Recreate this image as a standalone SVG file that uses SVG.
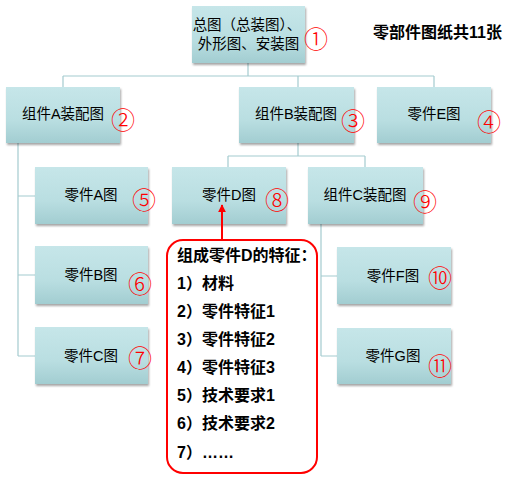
<svg xmlns="http://www.w3.org/2000/svg" width="513" height="500" viewBox="0 0 513 500">
<defs>
<linearGradient id="g" x1="0" y1="0" x2="0" y2="1">
<stop offset="0" stop-color="#c6e6e9"/>
<stop offset="0.6" stop-color="#b9dee1"/>
<stop offset="1" stop-color="#a2cdd1"/>
</linearGradient>
<filter id="sh" x="-10%" y="-10%" width="125%" height="130%">
<feDropShadow dx="1" dy="2" stdDeviation="1.2" flood-color="#000" flood-opacity="0.35"/>
</filter>
<marker id="ah" viewBox="0 0 10 10" refX="9" refY="5" markerWidth="4" markerHeight="4" orient="auto">
<path d="M0,0 L10,5 L0,10 z" fill="#ff0000"/>
</marker>
</defs>
<style>
.box{fill:url(#g);filter:url(#sh);}
.t{font-family:"Liberation Sans","Noto Sans CJK SC",sans-serif;font-size:14.5px;fill:#000;text-anchor:middle;dominant-baseline:central;}
.n{font-family:"Noto Sans CJK SC","DejaVu Serif",serif;font-size:24px;font-weight:300;fill:#ff0000;text-anchor:middle;dominant-baseline:central;}
.c{fill:none;stroke:#a4cbcf;stroke-width:1.2;}
.b{font-family:"Liberation Sans","Noto Sans CJK SC",sans-serif;font-size:16px;font-weight:bold;fill:#000;}
</style>
<g id="connectors">
<path class="c" d="M248,63 V76 M63,76 H434 M63,76 V87 M298,76 V87 M434,76 V87"/>
<path class="c" d="M18,143 V356 M18,196 H35 M18,275 H35 M18,356 H35"/>
<path class="c" d="M298,143 V156 M228,156 H365 M228,156 V167 M365,156 V167"/>
<path class="c" d="M321,224 V356 M321,276 H337 M321,356 H337"/>
</g>
<g id="n1"><rect class="box" x="192" y="6" width="113" height="57"/><text class="t" x="247" y="25">总图（总装图）、</text><text class="t" x="248.5" y="44">外形图、安装图</text><text class="n" x="316" y="37">①</text></g>
<g id="title"><text class="b" x="373" y="38">零部件图纸共11张</text></g>
<g id="n2"><rect class="box" x="6" y="87" width="114" height="56"/><text class="t" x="63" y="114">组件A装配图</text><text class="n" x="123" y="118">②</text></g>
<g id="n3"><rect class="box" x="239" y="87" width="115" height="56"/><text class="t" x="296" y="114">组件B装配图</text><text class="n" x="353" y="119">③</text></g>
<g id="n4"><rect class="box" x="377" y="87" width="114" height="56"/><text class="t" x="434" y="114">零件E图</text><text class="n" x="489" y="120">④</text></g>
<g id="n5"><rect class="box" x="35" y="167" width="113" height="57"/><text class="t" x="91" y="195">零件A图</text><text class="n" x="144" y="198">⑤</text></g>
<g id="n8"><rect class="box" x="172" y="167" width="114" height="57"/><text class="t" x="229" y="195">零件D图</text><text class="n" x="277" y="198">⑧</text></g>
<g id="n9"><rect class="box" x="308" y="167" width="115" height="57"/><text class="t" x="365" y="195">组件C装配图</text><text class="n" x="425" y="200">⑨</text></g>
<g id="n6"><rect class="box" x="35" y="246" width="113" height="58"/><text class="t" x="91" y="275">零件B图</text><text class="n" x="140" y="282">⑥</text></g>
<g id="n7"><rect class="box" x="35" y="327" width="113" height="57"/><text class="t" x="91" y="356">零件C图</text><text class="n" x="140" y="356">⑦</text></g>
<g id="n10"><rect class="box" x="337" y="247" width="114" height="57"/><text class="t" x="393" y="276">零件F图</text><text class="n" x="440" y="276">⑩</text></g>
<g id="n11"><rect class="box" x="337" y="328" width="114" height="56"/><text class="t" x="393" y="356">零件G图</text><text class="n" x="440" y="364">⑪</text></g>
<g id="callout">
<line x1="222" y1="240" x2="222" y2="205" stroke="#ff0000" stroke-width="2" marker-end="url(#ah)"/>
<rect x="167" y="240" width="150" height="233" rx="16" ry="16" fill="#fff" stroke="#ff0000" stroke-width="2"/>
<text class="b" x="177" y="261">组成零件D的特征：</text>
<text class="b" x="177" y="289">1）材料</text>
<text class="b" x="177" y="317">2）零件特征1</text>
<text class="b" x="177" y="345">3）零件特征2</text>
<text class="b" x="177" y="373">4）零件特征3</text>
<text class="b" x="177" y="401">5）技术要求1</text>
<text class="b" x="177" y="429">6）技术要求2</text>
<text class="b" x="177" y="458">7）……</text>
</g>
</svg>
